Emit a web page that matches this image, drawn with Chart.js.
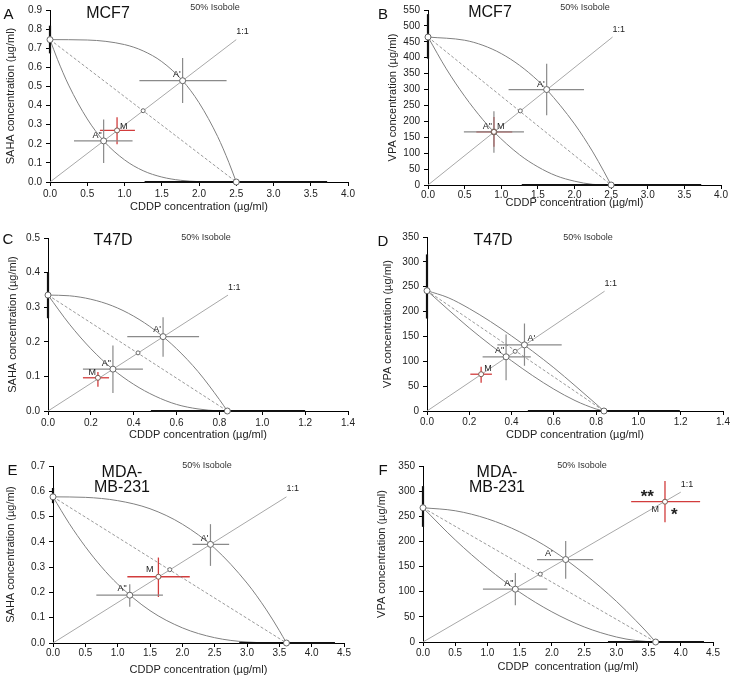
<!DOCTYPE html>
<html>
<head>
<meta charset="utf-8">
<script src="https://cdn.jsdelivr.net/npm/chart.js@4.4.1/dist/chart.umd.min.js"></script>
<style>
  html, body { margin: 0; padding: 0; background: #fff; overflow: hidden; }
  #fig { position: relative; width: 733px; height: 677px; }
  .panel { position: absolute; }
  .txt { position: absolute; transform: translate(-50%, -50%); font-family: "Liberation Sans", Arial, sans-serif; color: #111; white-space: nowrap; line-height: 1; }
</style>
</head>
<body>
<div id="fig"></div>
<script>
// ---- data (one entry per panel A..F) ----
const panelIds = ['A', 'B', 'C', 'D', 'E', 'F'];
const cellLines = [['MCF7'], ['MCF7'], ['T47D'], ['T47D'], ['MDA-', 'MB-231'], ['MDA-', 'MB-231']];
const yTitles = ['SAHA concentration (µg/ml)', 'VPA concentration (µg/ml)', 'SAHA concentration (µg/ml)',
  'VPA concentration (µg/ml)', 'SAHA concentration (µg/ml)', 'VPA concentration (µg/ml)'];
const xTitles = ['CDDP concentration (µg/ml)', 'CDDP concentration (µg/ml)', 'CDDP concentration (µg/ml)',
  'CDDP concentration (µg/ml)', 'CDDP concentration (µg/ml)', 'CDDP  concentration (µg/ml)'];

const xTicks = [
  ['0.0', '0.5', '1.0', '1.5', '2.0', '2.5', '3.0', '3.5', '4.0'],
  ['0.0', '0.5', '1.0', '1.5', '2.0', '2.5', '3.0', '3.5', '4.0'],
  ['0.0', '0.2', '0.4', '0.6', '0.8', '1.0', '1.2', '1.4'],
  ['0.0', '0.2', '0.4', '0.6', '0.8', '1.0', '1.2', '1.4'],
  ['0.0', '0.5', '1.0', '1.5', '2.0', '2.5', '3.0', '3.5', '4.0', '4.5'],
  ['0.0', '0.5', '1.0', '1.5', '2.0', '2.5', '3.0', '3.5', '4.0', '4.5']
];
const yTicks = [
  ['0.0', '0.1', '0.2', '0.3', '0.4', '0.5', '0.6', '0.7', '0.8', '0.9'],
  ['0', '50', '100', '150', '200', '250', '300', '350', '400', '450', '500', '550'],
  ['0.0', '0.1', '0.2', '0.3', '0.4', '0.5'],
  ['0', '50', '100', '150', '200', '250', '300', '350'],
  ['0.0', '0.1', '0.2', '0.3', '0.4', '0.5', '0.6', '0.7'],
  ['0', '50', '100', '150', '200', '250', '300', '350']
];

// IC50 of CDDP alone (x intercept) and its range drawn on the x axis
const cddpIC50 = [2.5, 2.5, 0.837, 0.837, 3.61, 3.61];
const cddpRange = [[1.27, 3.72], [1.28, 3.73], [0.48, 1.2], [0.477, 1.196], [2.88, 4.36], [2.87, 4.36]];
// IC50 of SAHA / VPA alone (y intercept) and its range drawn on the y axis
const hdiIC50 = [0.745, 465, 0.335, 242, 0.578, 267];
const hdiRange = [[0.673, 0.818], [397, 537], [0.268, 0.40], [186, 315], [0.553, 0.613], [229, 310]];

// additive point on the dashed line, end of the 1:1 ray
const additivePoint = [[1.25, 0.373], [1.26, 233], [0.42, 0.168], [0.417, 120], [1.806, 0.29], [1.82, 135]];
const ratioEnd = [[2.5, 0.745], [2.52, 465], [0.84, 0.335], [0.84, 241], [3.61, 0.578], [4.0, 298]];

// [x, y, xLow, xHigh, yLow, yHigh]
const aPrime = [
  [1.78, 0.53, 1.2, 2.37, 0.414, 0.649],
  [1.62, 300, 1.10, 2.13, 219, 381],
  [0.537, 0.215, 0.37, 0.705, 0.157, 0.271],
  [0.461, 133, 0.333, 0.637, 91, 176],
  [2.435, 0.39, 2.157, 2.724, 0.305, 0.47],
  [2.214, 164, 1.77, 2.64, 126, 201]
];
const aDouble = [
  [0.72, 0.215, 0.322, 1.108, 0.099, 0.327],
  [0.90, 167, 0.49, 1.31, 101, 232],
  [0.303, 0.121, 0.163, 0.443, 0.052, 0.189],
  [0.374, 109, 0.263, 0.491, 62, 154],
  [1.187, 0.189, 0.67, 1.70, 0.143, 0.232],
  [1.433, 105, 0.93, 1.93, 73, 137]
];
const mixture = [
  [0.9, 0.27, 0.67, 1.14, 0.197, 0.339],
  [0.90, 167, 0.66, 1.15, 120, 214],
  [0.233, 0.096, 0.163, 0.285, 0.07, 0.113],
  [0.256, 74, 0.205, 0.307, 57, 89],
  [1.63, 0.262, 1.15, 2.115, 0.182, 0.338],
  [3.755, 279, 3.23, 4.30, 238, 320]
];

// upper and lower isoboles of additivity
const upperIsobole = [
  [[0, 0.745], [0.5, 0.743], [1.0, 0.719], [1.25, 0.686], [1.5, 0.63], [1.78, 0.53], [2.0, 0.415], [2.25, 0.238], [2.4, 0.103], [2.5, 0]],
  [[0, 465], [0.5, 455], [0.75, 439], [1.0, 413], [1.25, 376], [1.5, 328], [1.62, 300], [2.0, 192], [2.25, 104], [2.4, 43], [2.5, 0]],
  [[0, 0.335], [0.1, 0.333], [0.2, 0.323], [0.3, 0.304], [0.4, 0.274], [0.5, 0.233], [0.6, 0.18], [0.7, 0.114], [0.8, 0.033], [0.837, 0]],
  [[0, 242], [0.1, 228], [0.2, 206], [0.3, 180], [0.4, 151], [0.5, 120], [0.6, 87], [0.7, 51], [0.8, 14], [0.837, 0]],
  [[0, 0.578], [0.5, 0.576], [1.0, 0.563], [1.5, 0.531], [2.0, 0.47], [2.5, 0.375], [3.0, 0.237], [3.3, 0.131], [3.5, 0.049], [3.61, 0]],
  [[0, 267], [0.5, 261], [1.0, 245], [1.5, 219], [2.0, 183], [2.5, 136], [3.0, 81], [3.3, 43], [3.5, 16], [3.61, 0]]
];
const lowerIsobole = [
  [[0, 0.745], [0.1, 0.642], [0.25, 0.507], [0.5, 0.33], [0.72, 0.215], [1.0, 0.116], [1.25, 0.059], [1.5, 0.026], [1.75, 0.009], [2.0, 0.002], [2.5, 0]],
  [[0, 465], [0.25, 365], [0.5, 279], [0.75, 205], [0.9, 167], [1.25, 95], [1.5, 57], [1.75, 29], [2.0, 12], [2.25, 2], [2.5, 0]],
  [[0, 0.335], [0.1, 0.251], [0.2, 0.18], [0.3, 0.122], [0.4, 0.077], [0.5, 0.043], [0.6, 0.019], [0.7, 0.006], [0.8, 0.0003], [0.837, 0]],
  [[0, 242], [0.1, 204], [0.2, 167], [0.3, 133], [0.4, 101], [0.5, 71], [0.6, 44], [0.7, 21], [0.8, 4], [0.837, 0]],
  [[0, 0.578], [0.25, 0.473], [0.5, 0.381], [0.75, 0.301], [1.0, 0.233], [1.5, 0.128], [2.0, 0.06], [2.5, 0.021], [3.0, 0.004], [3.61, 0]],
  [[0, 267], [0.5, 203], [1.0, 147], [1.5, 99], [2.0, 60], [2.5, 30], [3.0, 10], [3.3, 3], [3.61, 0]]
];

// ---- layout (page pixels) ----
const panelBox = [
  { left: 0, top: 0, w: 365, h: 220, l: 50, t: 9, r: 348, b: 182, padL: 0, padB: 2, xPad: 2 },
  { left: 365, top: 0, w: 368, h: 220, l: 63, t: 9, r: 356, b: 185, padL: 17, padB: 6, xPad: 0 },
  { left: 0, top: 220, w: 365, h: 230, l: 48, t: 18, r: 348, b: 191, padL: 2, padB: 4, xPad: 2 },
  { left: 365, top: 220, w: 368, h: 230, l: 62, t: 17, r: 358, b: 191, padL: 12, padB: 4, xPad: 1 },
  { left: 0, top: 450, w: 365, h: 232, l: 53, t: 16, r: 344, b: 193, padL: 0, padB: 1, xPad: 0 },
  { left: 365, top: 450, w: 368, h: 232, l: 58, t: 16, r: 348, b: 192, padL: 6, padB: 4, xPad: 1 }
];
const letterPos = [[8.5, 12.5], [383, 12.5], [8, 238], [383, 240], [12.5, 469], [383, 469]];
const titlePos = [[108, 13], [490, 12], [113, 240], [493, 240], [122, 472], [497, 472]];
const isobolePos = [[215, 7], [585, 7], [206, 237], [588, 237], [207, 465], [582, 465]];
// label offsets [dx, dy, align]
const aPrimeLbl = [[-2, -6, 'right'], [-2, -5, 'right'], [-2, -7, 'right'], [3, -6, 'left'], [-2, -6, 'right'], [-13, -6, 'right']];
const aDoubleLbl = [[-2, -5, 'right'], [-2, -5, 'right'], [-2, -6, 'right'], [-2, -6, 'right'], [-3, -7, 'right'], [-2, -6, 'right']];
const mLbl = [[3, -4, 'left'], [3, -5, 'left'], [-2, -5, 'right'], [3, -6, 'left'], [-5, -7, 'right'], [-6, 8, 'right']];

Chart.defaults.font.family = '"Liberation Sans", Arial, sans-serif';
Chart.defaults.color = '#222';

const GREY = '#808080';
const BAR = '#8a8a8a';
const RED = '#d23c3c';
const SMALL = '9px "Liberation Sans", Arial, sans-serif';

function labelPlugin(items) {
  return {
    id: 'pointLabels',
    afterDatasetsDraw(chart) {
      const { ctx } = chart;
      const xs = chart.scales.x, ys = chart.scales.y;
      ctx.save();
      items.forEach(it => {
        ctx.font = it.font || SMALL;
        ctx.fillStyle = it.color || '#222';
        ctx.textAlign = it.align || 'left';
        ctx.textBaseline = 'middle';
        ctx.fillText(it.text, xs.getPixelForValue(it.x) + it.dx, ys.getPixelForValue(it.y) + it.dy);
      });
      ctx.restore();
    }
  };
}

function segment(x1, y1, x2, y2, color, width, dash) {
  return {
    data: [{ x: x1, y: y1 }, { x: x2, y: y2 }],
    borderColor: color, borderWidth: width, borderDash: dash || [],
    pointRadius: 0, fill: false, clip: false, order: 2
  };
}

function errorBars(p, color, width) {
  return [segment(p[2], p[1], p[3], p[1], color, width), segment(p[0], p[4], p[0], p[5], color, width)];
}

function addText(text, x, y, size, extra) {
  const d = document.createElement('div');
  d.className = 'txt';
  d.style.left = x + 'px';
  d.style.top = y + 'px';
  d.style.fontSize = size + 'px';
  if (extra) Object.assign(d.style, extra);
  d.innerHTML = text;
  document.getElementById('fig').appendChild(d);
}

function makePanel(i) {
  const box = panelBox[i];
  const wrap = document.createElement('div');
  wrap.className = 'panel';
  wrap.style.left = box.left + 'px';
  wrap.style.top = box.top + 'px';
  const canvas = document.createElement('canvas');
  canvas.width = box.w;
  canvas.height = box.h;
  wrap.appendChild(canvas);
  document.getElementById('fig').appendChild(wrap);

  const xt = xTicks[i], yt = yTicks[i];
  const ap = aPrime[i], ad = aDouble[i], m = mixture[i];
  const toXY = arr => arr.map(p => ({ x: p[0], y: p[1] }));

  const datasets = [
    {
      data: [
        { x: 0, y: hdiIC50[i] }, { x: cddpIC50[i], y: 0 },
        { x: additivePoint[i][0], y: additivePoint[i][1] },
        { x: ap[0], y: ap[1] }, { x: ad[0], y: ad[1] }, { x: m[0], y: m[1] }
      ],
      showLine: false,
      pointRadius: [3, 3, 2, 3, 3, 2.5],
      pointBackgroundColor: '#fff',
      pointBorderColor: ['#666', '#666', '#666', '#666', '#666', '#7a5a50'],
      pointBorderWidth: 1,
      clip: false, order: 0
    },
    { data: toXY(upperIsobole[i]), borderColor: GREY, borderWidth: 1, pointRadius: 0,
      cubicInterpolationMode: 'monotone', fill: false, clip: false, order: 3 },
    { data: toXY(lowerIsobole[i]), borderColor: GREY, borderWidth: 1, pointRadius: 0,
      cubicInterpolationMode: 'monotone', fill: false, clip: false, order: 3 },
    segment(0, hdiIC50[i], cddpIC50[i], 0, GREY, 0.8, [3, 2]),
    segment(0, 0, ratioEnd[i][0], ratioEnd[i][1], '#a8a8a8', 1),
    segment(0, hdiRange[i][0], 0, hdiRange[i][1], '#111', 2.2),
    segment(cddpRange[i][0], 0, cddpRange[i][1], 0, '#111', 2.2),
    ...errorBars(ap, BAR, 1.2),
    ...errorBars(ad, BAR, 1.2),
    ...errorBars(m, RED, 1.3)
  ];

  const labels = [
    { text: '1:1', x: ratioEnd[i][0], y: ratioEnd[i][1], dx: 0, dy: -8, align: 'left' },
    { text: "A'", x: ap[0], y: ap[1], dx: aPrimeLbl[i][0], dy: aPrimeLbl[i][1], align: aPrimeLbl[i][2] },
    { text: 'A"', x: ad[0], y: ad[1], dx: aDoubleLbl[i][0], dy: aDoubleLbl[i][1], align: aDoubleLbl[i][2] },
    { text: 'M', x: m[0], y: m[1], dx: mLbl[i][0], dy: mLbl[i][1], align: mLbl[i][2] }
  ];
  if (panelIds[i] === 'F') {
    labels.push({ text: '**', x: m[0], y: m[1], dx: -11, dy: -4, align: 'right', font: 'bold 17px "Liberation Sans", Arial, sans-serif' });
    labels.push({ text: '*', x: m[0], y: m[1], dx: 6, dy: 14, align: 'left', font: 'bold 17px "Liberation Sans", Arial, sans-serif' });
  }

  const axisCommon = {
    type: 'linear',
    border: { display: true, color: '#000', width: 1 },
    grid: { drawOnChartArea: false, drawTicks: true, tickLength: 4, color: '#000', lineWidth: 1 }
  };

  new Chart(canvas, {
    type: 'line',
    data: { datasets },
    plugins: [labelPlugin(labels)],
    options: {
      responsive: false,
      animation: false,
      events: [],
      layout: { padding: { left: box.padL, top: box.t, right: box.w - box.r, bottom: box.padB } },
      plugins: { legend: { display: false }, tooltip: { enabled: false } },
      scales: {
        x: {
          ...axisCommon,
          min: parseFloat(xt[0]), max: parseFloat(xt[xt.length - 1]),
          afterBuildTicks: s => { s.ticks = xt.map(v => ({ value: parseFloat(v) })); },
          afterFit: s => { s.height = box.h - box.padB - box.b; },
          ticks: { callback: (v, k) => xt[k], autoSkip: false, maxRotation: 0, padding: box.xPad, color: '#222', font: { size: 10 } },
          title: { display: true, text: xTitles[i], color: '#222', font: { size: 11 }, padding: { top: 2, bottom: 4 } }
        },
        y: {
          ...axisCommon,
          min: parseFloat(yt[0]), max: parseFloat(yt[yt.length - 1]),
          afterBuildTicks: s => { s.ticks = yt.map(v => ({ value: parseFloat(v) })); },
          afterFit: s => { s.width = box.l - box.padL; },
          ticks: { callback: (v, k) => yt[k], autoSkip: false, padding: 4, color: '#222', font: { size: 10 } },
          title: { display: true, text: yTitles[i], color: '#222', font: { size: 11 }, padding: { top: 4, bottom: 4 } }
        }
      }
    }
  });

  addText(panelIds[i], letterPos[i][0], letterPos[i][1], 15);
  cellLines[i].forEach((line, k) => addText(line, titlePos[i][0], titlePos[i][1] + k * 15, 16));
  addText('50% Isobole', isobolePos[i][0], isobolePos[i][1], 9, { color: '#333' });
}

panelIds.forEach((_, i) => makePanel(i));
</script>
</body>
</html>
